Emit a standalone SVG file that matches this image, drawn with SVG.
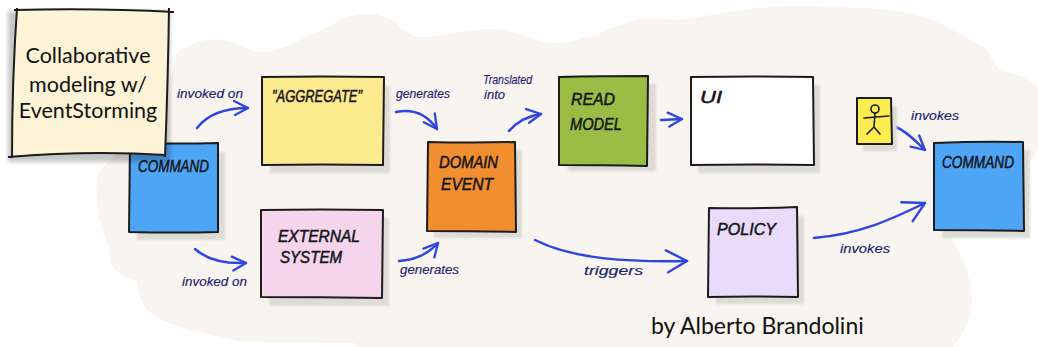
<svg xmlns="http://www.w3.org/2000/svg" width="1038" height="347" viewBox="0 0 1038 347">
<defs>
<marker id="ah" viewBox="0 0 20 20" refX="17" refY="10" markerWidth="20" markerHeight="20" markerUnits="userSpaceOnUse" orient="auto"><path d="M3 3L17 10L4 17" fill="none" stroke="#2f45e0" stroke-width="2.3" stroke-linecap="round" stroke-linejoin="round"/></marker>
<marker id="ahl" viewBox="0 0 28 28" refX="25" refY="14" markerWidth="28" markerHeight="28" markerUnits="userSpaceOnUse" orient="auto"><path d="M4 3L25 14L6 25" fill="none" stroke="#2f45e0" stroke-width="2.4" stroke-linecap="round" stroke-linejoin="round"/></marker>
<filter id="soft" x="-10%" y="-10%" width="120%" height="120%"><feGaussianBlur stdDeviation="1"/></filter>
<filter id="note" x="-10%" y="-10%" width="120%" height="120%"><feGaussianBlur stdDeviation="2"/></filter>
</defs>
<style>
.sh{fill:#dddbd5;filter:url(#soft)}
.st{stroke:#1c1c1c;stroke-width:2;stroke-linejoin:round}
.cap{font-family:"Liberation Sans",Arial,sans-serif;font-style:italic;font-size:16px;fill:#15151a;stroke:#15151a;stroke-width:.5}
.lab{font-family:"Liberation Sans",Arial,sans-serif;font-style:italic;font-size:13px;fill:#1a2270;stroke:#1a2270;stroke-width:.15}
.big{font-family:Lato,"Open Sans",sans-serif;fill:#111}
.c{fill:none;stroke:#2f45e0;stroke-width:2.5;stroke-linecap:round;marker-end:url(#ah)}
.cl{marker-end:url(#ahl)}
</style>
<rect width="1038" height="347" fill="#fff"/>
<path id="blob" d="M177 53C190 42 208 38 222 40C240 42 250 54 266 52C285 50 300 38 317 33C335 22 352 13 367 14C382 14 388 18 395 22C403 30 410 37 423 37C445 37 470 28 496 29C520 30 535 44 557 43C590 42 625 18 653 18C665 18 672 21 681 20C715 14 760 6 793 6C835 6 880 8 910 13C940 20 965 37 983 47C992 54 992 64 1000 70C1015 75 1030 78 1038 87L1038 147C1036 156 1032 160 1027 163L947 233C958 248 972 270 972 303C971 320 962 335 953 347L358 347L354 343L243 342C215 336 185 330 167 322C156 318 150 312 147 310C140 300 138 290 136 280C125 277 118 274 113 267C108 260 110 255 110 250C100 225 93 195 98 173L165 100Z" fill="#f8f4ef"/>
<g id="connectors">
<path class="c" d="M197 128C207 115 225 108 248 108"/>
<path class="c" d="M195 249C205 258 222 264 246 263"/>
<path class="c" d="M396 112C415 108 428 116 437 129"/>
<path class="c" d="M399 261C415 260 428 254 438 243"/>
<path class="c" d="M509 131C517 122 527 116 541 114"/>
<path class="c" d="M661 120L682 119"/>
<path class="c cl" d="M535 240C575 260 630 262 687 261"/>
<path class="c" d="M896 127C908 132 916 142 925 150"/>
<path class="c cl" d="M814 238C860 234 890 220 925 203"/>
</g>
<g id="n-command1"><rect class="sh" x="137" y="152" width="88" height="88"/><path class="st" d="M130 143Q175 144 218 143L218 232Q175 233 129 232Z" fill="#4fa5f5"/><text class="cap" x="138" y="172" textLength="71" lengthAdjust="spacingAndGlyphs">COMMAND</text></g>
<g id="n-aggregate"><rect class="sh" x="270" y="86" width="120" height="87"/><path class="st" d="M262 77Q320 76 384 77L383 165Q320 164 262 165Z" fill="#fcea8e"/><text class="cap" x="272" y="102" textLength="90" lengthAdjust="spacingAndGlyphs">"AGGREGATE"</text></g>
<g id="n-external"><rect class="sh" x="269" y="218" width="120" height="88"/><path class="st" d="M261 210Q320 209 383 210L382 298Q320 297 261 297Z" fill="#f5d5ec"/><text class="cap" x="278" y="242" textLength="82" lengthAdjust="spacingAndGlyphs">EXTERNAL</text><text class="cap" x="280" y="263" textLength="62" lengthAdjust="spacingAndGlyphs">SYSTEM</text></g>
<g id="n-event"><rect class="sh" x="434" y="150" width="88" height="88"/><path class="st" d="M428 142Q470 143 515 142L516 232Q470 231 427 231Z" fill="#f18f30"/><text class="cap" x="439" y="168" textLength="59" lengthAdjust="spacingAndGlyphs">DOMAIN</text><text class="cap" x="441" y="190" textLength="52" lengthAdjust="spacingAndGlyphs">EVENT</text></g>
<g id="n-read"><rect class="sh" x="568" y="84" width="88" height="87"/><path class="st" d="M559 77Q600 76 648 76L647 166Q600 165 559 165Z" fill="#9cbd45"/><text class="cap" x="571" y="105" textLength="44" lengthAdjust="spacingAndGlyphs">READ</text><text class="cap" x="570" y="130" textLength="52" lengthAdjust="spacingAndGlyphs">MODEL</text></g>
<g id="n-ui"><rect class="sh" x="698" y="85" width="122" height="88"/><path class="st" d="M691 77Q750 76 813 77L814 165Q750 164 691 165Z" fill="#fff"/><text class="cap" x="700" y="103" textLength="22" lengthAdjust="spacingAndGlyphs">UI</text></g>
<g id="n-actor"><rect class="sh" x="863" y="106" width="34" height="45"/><path class="st" d="M857 98L891 98L892 144L857 144Z" fill="#fbec4f"/><g fill="none" stroke="#1c1c1c" stroke-width="1.6" stroke-linecap="round"><circle cx="875" cy="109" r="4"/><path d="M875 113L874 127M864 118L889 116M874 127L867 134M874 127L880 134"/></g></g>
<g id="n-policy"><rect class="sh" x="716" y="216" width="88" height="88"/><path class="st" d="M709 208Q750 209 797 207L798 297Q750 296 708 297Z" fill="#e8dcfa"/><text class="cap" x="717" y="235" textLength="59" lengthAdjust="spacingAndGlyphs">POLICY</text></g>
<g id="n-command2"><rect class="sh" x="942" y="150" width="88" height="88"/><path class="st" d="M934 143Q980 141 1023 142L1024 231Q980 230 934 230Z" fill="#4fa5f5"/><text class="cap" x="942" y="168" textLength="72" lengthAdjust="spacingAndGlyphs">COMMAND</text></g>
<g id="labels">
<text class="lab" x="177" y="98" textLength="66" lengthAdjust="spacingAndGlyphs">invoked on</text>
<text class="lab" x="182" y="286" textLength="65" lengthAdjust="spacingAndGlyphs">invoked on</text>
<text class="lab" x="396" y="98" textLength="54" lengthAdjust="spacingAndGlyphs">generates</text>
<text class="lab" x="400" y="274" textLength="59" lengthAdjust="spacingAndGlyphs">generates</text>
<text class="lab" x="483" y="84" font-size="11" textLength="49" lengthAdjust="spacingAndGlyphs">Translated</text>
<text class="lab" x="484" y="99" font-size="11" textLength="21" lengthAdjust="spacingAndGlyphs">into</text>
<text class="lab" x="584" y="275" font-size="14" textLength="59" lengthAdjust="spacingAndGlyphs">triggers</text>
<text class="lab" x="911" y="120" textLength="48" lengthAdjust="spacingAndGlyphs">invokes</text>
<text class="lab" x="840" y="253" textLength="50" lengthAdjust="spacingAndGlyphs">invokes</text>
</g>
<g id="n-note"><rect x="8" y="11" width="162" height="151" fill="#000" opacity=".22" filter="url(#note)"/><path d="M16 11Q100 8 170 12L165 155Q90 150 11 156Z" fill="#fdf3d7"/><path class="st" fill="none" d="M12 158Q12 80 17 8M14 10Q100 8 174 12M169 8Q168 80 165 157M8 157Q90 150 166 155"/>
<text class="big" text-anchor="middle" font-size="21.5" x="88" y="63">Collaborative</text><text class="big" text-anchor="middle" font-size="21.5" x="88" y="92">modeling w/</text><text class="big" text-anchor="middle" font-size="21.5" x="88" y="118">EventStorming</text></g>
<text class="big" font-size="23" x="651" y="334">by Alberto Brandolini</text>
</svg>
